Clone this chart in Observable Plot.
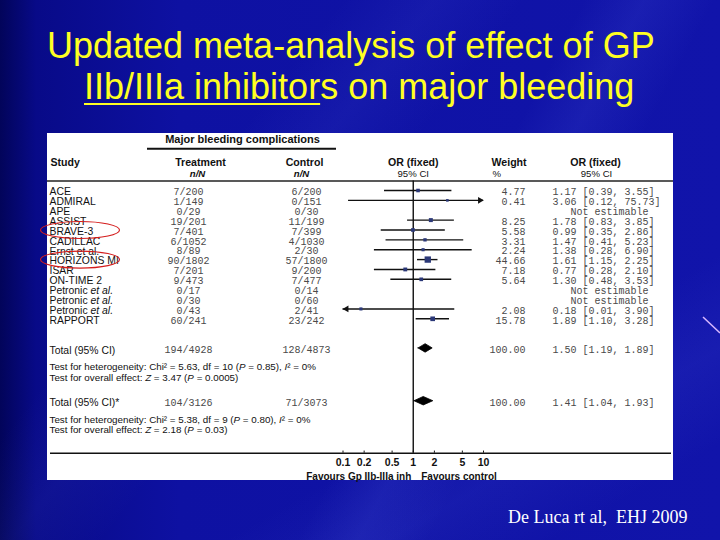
<!DOCTYPE html>
<html><head><meta charset="utf-8">
<script src="https://cdn.jsdelivr.net/npm/d3@7"></script>
<script src="https://cdn.jsdelivr.net/npm/@observablehq/plot@0.6"></script>
<style>
html,body{margin:0;padding:0;background:#0a0c90;}
#slide{position:relative;width:720px;height:540px;overflow:hidden;font-family:"Liberation Sans",Arial,sans-serif;
 background:
  linear-gradient(118deg, rgba(255,255,255,0) 58%, rgba(110,130,255,0.10) 64%, rgba(255,255,255,0) 71%),
  linear-gradient(128deg, rgba(255,255,255,0) 30%, rgba(110,130,255,0.07) 38%, rgba(255,255,255,0) 46%),
  linear-gradient(150deg, rgba(255,255,255,0) 70%, rgba(110,130,255,0.08) 80%, rgba(255,255,255,0) 90%),
  linear-gradient(90deg, #02045a 0%, #080a88 5%, #0e11a2 25%, #1114aa 100%);}
.title{position:absolute;color:#ffff22;font-size:36px;line-height:40px;white-space:nowrap;}
.title u{text-decoration-thickness:2px;text-underline-offset:4px;}
#panel{position:absolute;left:47px;top:133px;width:626px;height:347px;}
#caption{position:absolute;left:508px;top:507px;font-family:"Liberation Serif","Times New Roman",serif;font-size:18px;line-height:20px;color:#fff;white-space:pre;}
#deco{position:absolute;left:0;top:0;}
</style></head>
<body>
<div id="slide">
  <div class="title" style="left:47px;top:26px">Updated meta-analysis of effect of GP</div>
  <div class="title" style="left:84px;top:67px"><u>IIb/IIIa inhibitor</u>s on major bleeding</div>
  <div id="panel"></div>
  <svg id="deco" width="720" height="540"><line x1="703" y1="317" x2="720" y2="333" stroke="#d8b8ff" stroke-width="1.5"/></svg>
  <div id="caption">De Luca rt al,  EHJ 2009</div>
</div>
<script>
// ---- data ----
const studies = ["ACE","ADMIRAL","APE","ASSIST","BRAVE-3","CADILLAC","Ernst et al.","HORIZONS MI","ISAR","ON-TIME 2","Petronic _et al._","Petronic _et al._","Petronic _et al._","RAPPORT"];
const treatment = ["7/200","1/149","0/29","19/201","7/401","6/1052","8/89","90/1802","7/201","9/473","0/17","0/30","0/43","60/241"];
const control = ["6/200","0/151","0/30","11/199","7/399","4/1030","2/30","57/1800","9/200","7/477","0/14","0/60","2/41","23/242"];
const weights = [4.77,0.41,null,8.25,5.58,3.31,2.24,44.66,7.18,5.64,null,null,2.08,15.78];
const orEst = [1.17,3.06,null,1.78,0.99,1.47,1.38,1.61,0.77,1.30,null,null,0.18,1.89];
const orLow = [0.39,0.12,null,0.83,0.35,0.41,0.28,1.15,0.28,0.48,null,null,0.01,1.10];
const orHigh = [3.55,75.73,null,3.85,2.86,5.23,6.90,2.25,2.10,3.53,null,null,3.90,3.28];
const highlighted = ["BRAVE-3","HORIZONS MI"];

const totalLabels = ["Total (95% CI)","Total (95% CI)*"];
const totalTreatment = ["194/4928","104/3126"];
const totalControl = ["128/4873","71/3073"];
const totalWeight = [100.00,100.00];
const totalEst = [1.50,1.41];
const totalLow = [1.19,1.04];
const totalHigh = [1.89,1.93];
const heterogeneity = ["Test for heterogeneity: Chi² = 5.63, df = 10 (_P_ = 0.85), _I_² = 0%",
                       "Test for heterogeneity: Chi² = 5.38, df = 9 (_P_ = 0.80), _I_² = 0%"];
const overallEffect = ["Test for overall effect: _Z_ = 3.47 (_P_ = 0.0005)",
                       "Test for overall effect: _Z_ = 2.18 (_P_ = 0.03)"];

const axisTicks = [0.1,0.2,0.5,1,2,5,10];
const tickLabels = ["0.1","0.2","0.5","1","2","5","10"];

// ---- layout (row units / pixel columns) ----
const R = {major:-5.17, majorLine:-4.23, head1:-2.87, head2:-1.72, headRule:-0.96,
           total:[16.0,21.35], het:[17.9,23.22], overall:[19.02,24.27], axis:26.62, tick:27.56, favours:28.98};
const C = {label:2, treat:141, ctrl:259, weight:478, orText:505, notEst:523};
const mono = "Liberation Mono, Courier New, monospace";
const numFill = "#4a4a4a";

const rows = studies.map((s,i)=>({row:i, study:s, treat:treatment[i], ctrl:control[i],
  w:weights[i], est:orEst[i], lo:orLow[i], hi:orHigh[i]}));
const estimable = rows.filter(d=>d.est!=null);
const xMin = axisTicks[0], xMax = axisTicks[axisTicks.length-1];
const fmtOR = d => d.est==null ? "Not estimable" : `${d.est.toFixed(2)} [${d.lo.toFixed(2)}, ${d.hi.toFixed(2)}]`;

const totals = totalLabels.map((t,i)=>({label:t, row:R.total[i], treat:totalTreatment[i], ctrl:totalControl[i],
  w:totalWeight[i], est:totalEst[i], lo:totalLow[i], hi:totalHigh[i]}));
const dh = 0.43;
const diamond = totals.flatMap((d,i)=>[
  {id:i, x:d.lo, y1:d.row, y2:d.row},
  {id:i, x:d.est, y1:d.row-dh, y2:d.row+dh},
  {id:i, x:d.hi, y1:d.row, y2:d.row}]);

const ellipseSymbol = {draw(ctx){ const rx=39.5, ry=8.5, k=0.5523;
  ctx.moveTo(rx,0);
  ctx.bezierCurveTo(rx,ry*k,rx*k,ry,0,ry);
  ctx.bezierCurveTo(-rx*k,ry,-rx,ry*k,-rx,0);
  ctx.bezierCurveTo(-rx,-ry*k,-rx*k,-ry,0,-ry);
  ctx.bezierCurveTo(rx*k,-ry,rx,-ry*k,rx,0);
  ctx.closePath(); }};

const base = {fill:"#111", fontSize:10.4};
const left = (dx)=>({frameAnchor:"left", textAnchor:"start", dx});
const mid = (dx)=>({frameAnchor:"left", textAnchor:"middle", dx});
const right = (dx)=>({frameAnchor:"left", textAnchor:"end", dx});
const hb = {fontWeight:"bold", fontSize:10.6, fill:"#111"};
const h2 = {fontSize:9.6, fill:"#111"};

const plot = Plot.plot({
  width:626, height:347, marginTop:0, marginRight:0, marginBottom:0, marginLeft:0,
  style:{background:"white", overflow:"visible", fontFamily:"Liberation Sans, Arial, sans-serif", fontSize:"10.4px"},
  x:{type:"log", domain:[xMin,xMax], range:[295.5,436], axis:null},
  y:{type:"linear", domain:[0,13], range:[57,185.3], axis:null},
  r:{type:"identity"},
  marks:[
    // headers
    Plot.text(["Major bleeding complications"], {y:R.major, ...mid(195), fontWeight:"bold", fontSize:11, fill:"#111"}),
    Plot.ruleY([R.majorLine], {insetLeft:100, insetRight:337, strokeWidth:2.2, stroke:"#111"}),
    Plot.text(["Study"], {y:R.head1, ...left(3), ...hb}),
    Plot.text(["Treatment"], {y:R.head1, ...mid(153), ...hb}),
    Plot.text(["n/N"], {y:R.head2, ...mid(150), ...h2, fontWeight:"bold", fontStyle:"italic"}),
    Plot.text(["Control"], {y:R.head1, ...mid(257), ...hb}),
    Plot.text(["n/N"], {y:R.head2, ...mid(254), ...h2, fontWeight:"bold", fontStyle:"italic"}),
    Plot.text(["OR (fixed)"], {x:1, y:R.head1, textAnchor:"middle", ...hb}),
    Plot.text(["95% CI"], {x:1, y:R.head2, textAnchor:"middle", ...h2}),
    Plot.text(["Weight"], {y:R.head1, ...left(444), ...hb}),
    Plot.text(["%"], {y:R.head2, ...left(445), ...h2}),
    Plot.text(["OR (fixed)"], {y:R.head1, ...mid(548), ...hb}),
    Plot.text(["95% CI"], {y:R.head2, ...mid(549), ...h2}),
    Plot.ruleY([R.headRule], {strokeWidth:1.5, stroke:"#222"}),
    // reference line
    Plot.ruleX([1], {y1:R.headRule, y2:R.axis, strokeWidth:1.4, stroke:"#111"}),
    // study rows
    Plot.text(rows, {y:"row", text:"study", ...left(C.label), dy:1.5, ...base}),
    Plot.text(rows, {y:"row", text:"treat", ...mid(C.treat), dy:1.5, fontFamily:mono, fontSize:10, fill:numFill}),
    Plot.text(rows, {y:"row", text:"ctrl", ...mid(C.ctrl), dy:1.5, fontFamily:mono, fontSize:10, fill:numFill}),
    Plot.text(estimable, {y:"row", text:d=>d.w.toFixed(2), ...right(C.weight), dy:1.5, fontFamily:mono, fontSize:10, fill:numFill}),
    Plot.text(estimable, {y:"row", text:fmtOR, ...left(C.orText), dy:1.5, fontFamily:mono, fontSize:10, fill:numFill}),
    Plot.text(rows.filter(d=>d.est==null), {y:"row", text:fmtOR, ...left(C.notEst), dy:1.5, fontFamily:mono, fontSize:10, fill:numFill}),
    // CIs
    Plot.ruleY(estimable, {y:"row", x1:d=>Math.max(d.lo,xMin), x2:d=>Math.min(d.hi,xMax), stroke:"#111", strokeWidth:1.4}),
    Plot.dot(estimable.filter(d=>d.hi>xMax), {x:xMax, y:"row", symbol:"triangle", rotate:90, r:2.5, fill:"#111", stroke:"none", dx:-3.5}),
    Plot.dot(estimable.filter(d=>d.lo<xMin), {x:xMin, y:"row", symbol:"triangle", rotate:-90, r:2.5, fill:"#111", stroke:"none", dx:3.5}),
    Plot.dot(estimable, {x:"est", y:"row", symbol:"square", r:d=>(2.2+0.62*Math.sqrt(d.w))/Math.sqrt(Math.PI), fill:"#2b3878", stroke:"none"}),
    // highlight ellipses
    Plot.dot(rows.filter(d=>highlighted.includes(d.study)), {y:"row", frameAnchor:"left", dx:32.5, symbol:ellipseSymbol, r:5, fill:"none", stroke:"#d41c1c", strokeWidth:1.1}),
    // totals
    Plot.text(totals, {y:"row", text:"label", ...left(C.label), dy:1.8, ...base}),
    Plot.text(totals, {y:"row", text:"treat", ...mid(C.treat), dy:1.8, fontFamily:mono, fontSize:10, fill:numFill}),
    Plot.text(totals, {y:"row", text:"ctrl", ...mid(C.ctrl), dy:1.8, fontFamily:mono, fontSize:10, fill:numFill}),
    Plot.text(totals, {y:"row", text:d=>d.w.toFixed(2), ...right(C.weight), dy:1.8, fontFamily:mono, fontSize:10, fill:numFill}),
    Plot.text(totals, {y:"row", text:fmtOR, ...left(C.orText), dy:1.8, fontFamily:mono, fontSize:10, fill:numFill}),
    Plot.areaY(diamond, {x:"x", y1:"y1", y2:"y2", z:"id", fill:"#000", stroke:"#000", strokeWidth:0.8}),
    Plot.text(heterogeneity, {y:(d,i)=>R.het[i], text:d=>d, ...left(C.label), fontSize:9.8, fill:"#111"}),
    Plot.text(overallEffect, {y:(d,i)=>R.overall[i], text:d=>d, ...left(C.label), fontSize:9.8, fill:"#111"}),
    // axis
    Plot.ruleY([R.axis], {insetLeft:3, insetRight:2, strokeWidth:1.4, stroke:"#111"}),
    Plot.ruleX(axisTicks, {x:d=>d, y1:R.axis, y2:R.axis-0.22, stroke:"#111", strokeWidth:1}),
    Plot.text(axisTicks, {x:d=>d, y:R.tick, text:(d,i)=>tickLabels[i], fontWeight:"bold", fontSize:10.5, fill:"#111"}),
    Plot.text(["Favours Gp IIb-IIIa inh"], {x:1, y:R.favours, textAnchor:"end", dx:-2, fontWeight:"bold", fontSize:10, fill:"#111"}),
    Plot.text(["Favours control"], {x:1, y:R.favours, textAnchor:"start", dx:8, fontWeight:"bold", fontSize:10, fill:"#111"})
  ]
});

// italic segments marked with _..._
const ns = "http://www.w3.org/2000/svg";
plot.querySelectorAll("text, tspan").forEach(t=>{
  if (t.children.length===0 && t.textContent.includes("_")) {
    const parts = t.textContent.split("_");
    t.textContent = "";
    parts.forEach((p,i)=>{ if(!p) return; const ts=document.createElementNS(ns,"tspan");
      if(i%2) ts.setAttribute("font-style","italic"); ts.textContent=p; t.appendChild(ts); });
  }
});
document.getElementById("panel").appendChild(plot);
</script>
</body></html>
